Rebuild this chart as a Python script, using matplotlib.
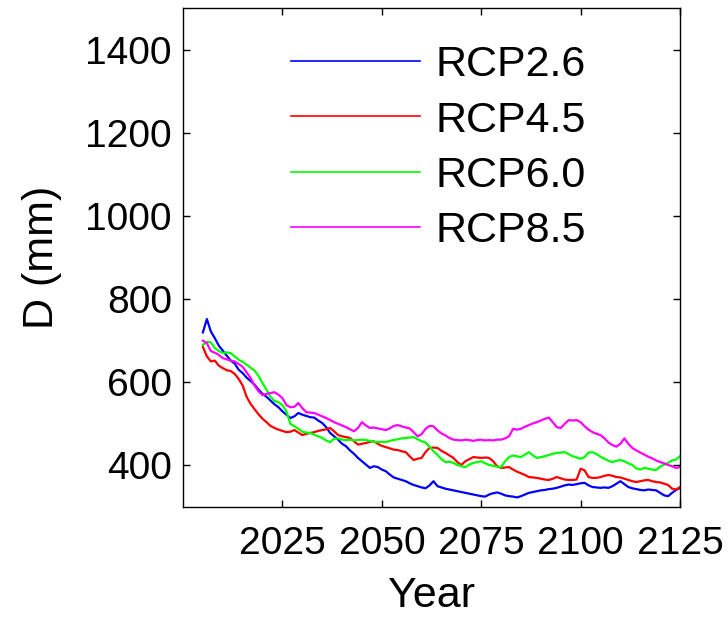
import numpy as np
import matplotlib.pyplot as plt

plt.rcParams['font.family'] = ['Liberation Sans', 'DejaVu Sans']

years = np.arange(2005, 2126)

rcp26 = [
    720, 752, 722, 706, 688, 676, 664, 652, 645, 630,  # 2005-2014
    622, 611, 603, 594, 582, 572, 565, 556, 547, 540,  # 2015-2024
    530, 522, 514, 518, 526, 522, 519, 516, 515, 508,  # 2025-2034
    502, 492, 478, 470, 462, 452, 446, 436, 428, 418,  # 2035-2044
    410, 402, 394, 398, 396, 390, 386, 378, 371, 368,  # 2045-2054
    365, 362, 357, 353, 350, 347, 345, 352, 362, 350,  # 2055-2064
    347, 344, 342, 340, 338, 336, 334, 332, 330, 328,  # 2065-2074
    326, 325, 330, 333, 335, 332, 328, 326, 325, 323,  # 2075-2084
    326, 330, 334, 336, 338, 340, 341, 343, 344, 346,  # 2085-2094
    349, 352, 354, 353, 355, 357, 358, 352, 348, 347,  # 2095-2104
    346, 347, 346, 350, 356, 362, 355, 348, 345, 343,  # 2105-2114
    341, 340, 342, 341, 340, 334, 328, 326, 334, 341,  # 2115-2124
    346,
]
rcp45 = [
    685, 662, 650, 652, 640, 634, 629, 627, 620, 608,
    592, 565, 548, 535, 523, 512, 504, 495, 490, 486,
    483, 480, 481, 485, 479, 473, 476, 478, 480, 483,
    485, 487, 490, 482, 473, 470, 468, 466, 458, 450,
    452, 454, 457, 458, 452, 447, 444, 441, 438, 437,
    434, 432, 422, 413, 416, 418, 432, 442, 443, 442,
    435, 430, 424, 418, 408, 401, 410, 415, 420, 419,
    418, 419, 418, 410, 398, 394, 395, 396, 390, 385,
    381, 377, 372, 371, 370, 368, 366, 365, 368, 372,
    369, 366, 365, 365, 366, 392, 388, 372, 370, 370,
    372, 375, 377, 375, 372, 371, 368, 365, 362, 360,
    362, 364, 365, 362, 360, 359, 356, 353, 344, 342,
    348,
]
rcp60 = [
    690, 697, 696, 682, 675, 670, 672, 670, 662, 654,
    649, 642, 635, 628, 615, 598, 582, 565, 555, 552,
    545, 530, 500, 494, 488, 481, 479, 478, 474, 470,
    466, 460, 456, 464, 465, 462, 461, 462, 460, 461,
    462, 461, 459, 457, 456, 457, 456, 459, 461, 463,
    465, 466, 467, 468, 463, 458, 455, 445, 434, 425,
    415, 408, 409, 406, 401, 398, 396, 402, 406, 408,
    410, 405, 401, 399, 397, 396, 410, 420, 424, 422,
    420, 426, 432, 424, 418, 420, 422, 425, 428, 430,
    431, 432, 427, 422, 419, 416, 420, 431, 432, 427,
    421, 416, 411, 408, 411, 413, 410, 405, 401, 393,
    390, 394, 392, 390, 389, 397, 402, 406, 412, 414,
    422,
]
rcp85 = [
    700, 694, 675, 671, 666, 658, 655, 652, 650, 644,
    637, 624, 610, 592, 578, 569, 572, 574, 576, 570,
    562, 545, 540, 541, 550, 538, 528, 527, 526, 522,
    518, 514, 509, 504, 500, 496, 492, 487, 482, 490,
    504, 496, 490, 491, 489, 487, 485, 489, 495, 497,
    494, 491, 489, 480, 470, 475, 488, 495, 494, 484,
    477, 472, 466, 462, 461, 460, 462, 461, 459, 461,
    462, 460, 461, 460, 462, 462, 465, 470, 488, 486,
    488, 493, 497, 501, 504, 508, 512, 515, 504, 492,
    490, 500, 509, 508, 509, 504, 494, 486, 480, 476,
    473, 465, 455, 449, 445, 452, 465, 452, 442, 436,
    431, 426, 421, 417, 412, 408, 405, 401, 398, 394,
    396,
]

series = [rcp26, rcp45, rcp60, rcp85]
labels = ['RCP2.6', 'RCP4.5', 'RCP6.0', 'RCP8.5']
colors = ['#0000ff', '#ff0000', '#00ff00', '#ff00ff']

fig = plt.figure(figsize=(7.28, 6.17), dpi=100)
ax = fig.add_axes([0.2514, 0.1783, 0.6827, 0.8087])

for vals, lab, col in zip(series, labels, colors):
    ax.plot(years, vals, color=col, lw=1.6, label=lab)

ax.set_xlim(2000, 2125)
ax.set_ylim(300, 1500)
ax.set_xticks([2025, 2050, 2075, 2100, 2125])
ax.set_yticks([400, 600, 800, 1000, 1200, 1400])
ax.tick_params(direction='in', length=5, width=1, labelsize=28,
               top=True, right=True)
ax.tick_params(axis='x', pad=14)
ax.tick_params(axis='y', pad=8)
for sp in ax.spines.values():
    sp.set_linewidth(1)

ax.set_xlabel('Year', fontsize=31, labelpad=10)
ax.set_ylabel('D (mm)', fontsize=31, labelpad=17)

leg = ax.legend(loc='upper left', bbox_to_anchor=(0.217, 0.925), frameon=False,
                fontsize=31, handlelength=3.0, handletextpad=0.35,
                labelspacing=0.35, borderpad=0, borderaxespad=0)
for h in leg.get_lines():
    h.set_linewidth(1.2)

fig.savefig('out.png', dpi=100)
